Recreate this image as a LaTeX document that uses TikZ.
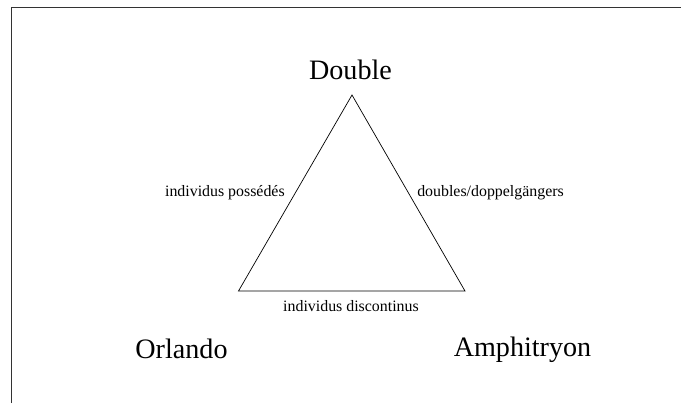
\documentclass[tikz,border=0pt]{standalone}
\usepackage{fontspec}
\setmainfont{Liberation Serif}
\usepackage{tikz}

\tikzset{
	bigname/.style={font=\fontsize{20}{24}\selectfont, inner sep=0pt},
	sidename/.style={font=\fontsize{11.3}{13}\selectfont, inner sep=0pt}
}

\begin{document}
\begin{tikzpicture}[x=0.025cm,y=-0.025cm,auto=center]
			\useasboundingbox (0,0) rectangle (681,403);
			%\draw [help lines] (0,0) grid (681,403);
			\draw[line width=0.9pt, black!80] (11.5,403) -- (11.5,7.5) -- (681,7.5);

			\coordinate (apex) at (352,95);
			\coordinate (bl) at (238.5,291);
			\coordinate (br) at (465,291);
			\draw[line width=0.5pt] (apex) -- (bl) -- (br) -- cycle;

			\node[bigname, anchor=base] (double) at (350.5,79.3) {Double};
			\node[bigname, anchor=base] (orlando) at (181.5,358) {Orlando};
			\node[bigname, anchor=base] (amphi) at (522.5,356.7) {Amphitryon};

			\node[sidename, anchor=base east] (poss) at (285,196.7) {individus possédés};
			\node[sidename, anchor=base west] (doppel) at (417,196.5) {doubles/doppelgängers};
			\node[sidename, anchor=base] (discont) at (351,311.7) {individus discontinus};
		\end{tikzpicture}
\end{document}
